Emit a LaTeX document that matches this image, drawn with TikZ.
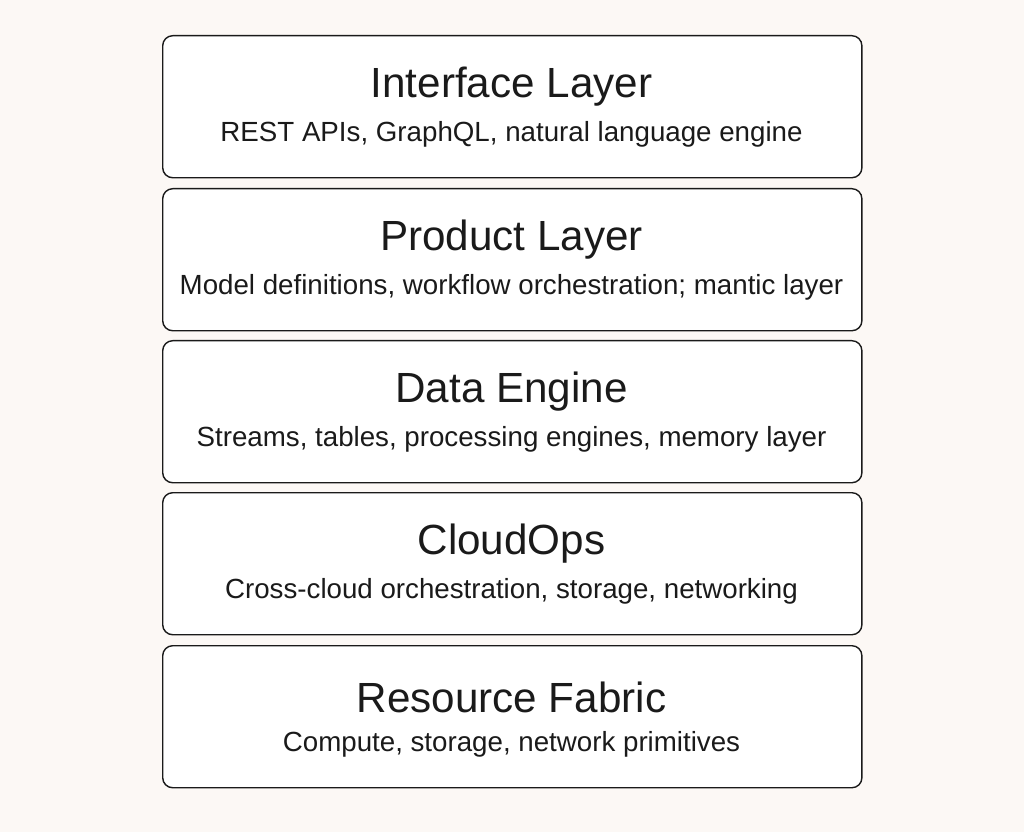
\documentclass[tikz,border=0pt]{standalone}
\usepackage{fontspec}
\setmainfont{Liberation Sans}
\usetikzlibrary{positioning}
\definecolor{paper}{HTML}{FCF8F5}
\definecolor{ink}{HTML}{1A1A1A}

\begin{document}
\begin{tikzpicture}[
    x=0.025cm, y=-0.025cm,
    layer/.style={draw=ink, line width=1pt, rounded corners=0.25cm, fill=white,
        minimum width=17.475cm, minimum height=3.55cm},
    title/.style={font=\fontsize{30}{33}\selectfont, text=ink},
    subtitle/.style={font=\fontsize{19.7}{22}\selectfont, text=ink}
]
    % --- background ---
    \fill[paper] (0,0) rectangle (1024,832);
    \useasboundingbox (0,0) rectangle (1024,832);
    % --- stacked layers ---
    \foreach \name/\top/\head/\body in {
        iface/35/Interface Layer/{REST APIs, GraphQL, natural language engine},
        product/188/Product Layer/{Model definitions, workflow orchestration; mantic layer},
        engine/340/Data Engine/{Streams, tables, processing engines, memory layer},
        cloud/492/CloudOps/{Cross-cloud orchestration, storage, networking},
        fabric/645/Resource Fabric/{Compute, storage, network primitives}} {
        \node (\name) [layer, anchor=north west] at (162,\top) {};
        \node (\name-title) [title] at (511.5,\top+52) {\head};
        \node (\name-sub) [subtitle] at (511.5,\top+99) {\body};
    }
\end{tikzpicture}
\end{document}
